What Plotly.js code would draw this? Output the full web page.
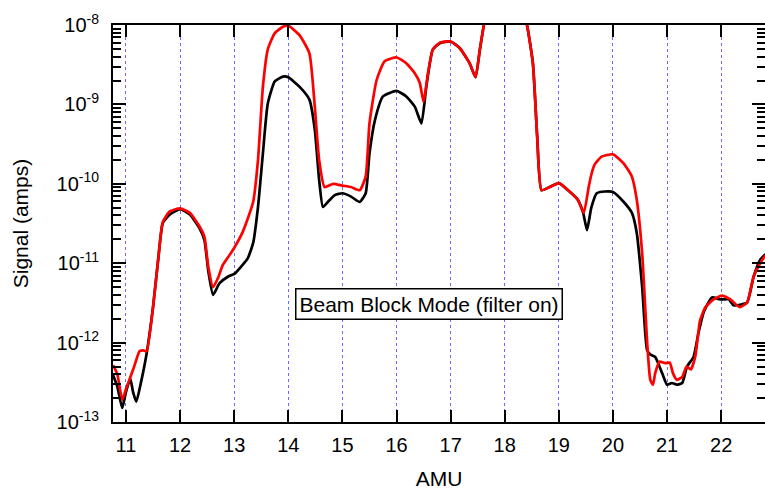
<!DOCTYPE html>
<html>
<head>
<meta charset="utf-8">
<script src="https://cdn.plot.ly/plotly-3.0.1.min.js"></script>
<style>html,body{margin:0;padding:0;background:#fff;}#chart{width:765px;height:491px;}</style>
</head>
<body>
<div id="chart"></div>
<script>
// AMU positions and signal (amps) — black trace
const amuBlack = [10.76,10.84,10.93,11.0,11.08,11.13,11.19,11.27,11.38,11.5,11.6,11.68,11.81,12.0,12.18,12.36,12.45,12.52,12.61,12.73,12.89,13.01,13.13,13.25,13.35,13.44,13.53,13.62,13.75,13.9,14.0,14.21,14.39,14.49,14.57,14.64,14.73,14.86,15.0,15.16,15.32,15.43,15.5,15.6,15.75,16.0,16.18,16.34,16.46,16.55,16.67,16.8,17.0,17.17,17.35,17.46,17.54,17.63,17.75,18.0,18.25,18.4,18.52,18.6,18.68,18.83,19.0,19.17,19.35,19.45,19.52,19.6,19.7,19.85,20.0,20.2,20.35,20.44,20.54,20.63,20.69,20.78,20.91,21.0,21.09,21.18,21.28,21.37,21.49,21.58,21.68,21.83,21.98,22.14,22.23,22.35,22.48,22.6,22.72,22.82];
const sigBlack = [3.9e-13,2.8e-13,1.5e-13,2.4e-13,3.5e-13,2.4e-13,1.8e-13,3.0e-13,7.2e-13,2.8e-12,1.2e-11,3.2e-11,4.1e-11,4.8e-11,4.1e-11,2.75e-11,1.95e-11,8.1e-12,4.0e-12,5.6e-12,6.8e-12,7.4e-12,9.1e-12,1.15e-11,1.8e-11,5.1e-11,2.4e-10,1.02e-9,1.95e-9,2.24e-9,2.2e-9,1.66e-9,1.15e-9,4.8e-10,1.12e-10,5.1e-11,5.9e-11,7.2e-11,7.6e-11,6.9e-11,5.9e-11,7.6e-11,2.4e-10,6.3e-10,1.26e-9,1.48e-9,1.26e-9,9.3e-10,5.75e-10,1.66e-9,4.9e-9,5.9e-9,6.2e-9,5.1e-9,3.3e-9,2.2e-9,4.9e-9,1.15e-8,2.5e-8,4e-8,2.5e-8,1.1e-8,3.3e-9,3.9e-10,8.3e-11,9.1e-11,1.02e-10,8.3e-11,6.3e-11,4.3e-11,2.6e-11,5.0e-11,7.6e-11,8.0e-11,7.9e-11,5.9e-11,4.3e-11,2.4e-11,5.0e-12,8.1e-13,7.1e-13,6.6e-13,4.1e-13,2.95e-13,3.1e-13,2.95e-13,3.1e-13,5.0e-13,6.6e-13,1.32e-12,2.45e-12,3.7e-12,3.5e-12,3.5e-12,2.95e-12,3.0e-12,3.2e-12,6.8e-12,1.1e-11,1.3e-11];

// AMU positions and signal (amps) — red trace
const amuRed = [10.76,10.84,10.93,11.0,11.07,11.16,11.25,11.32,11.38,11.5,11.6,11.68,11.81,12.0,12.18,12.36,12.45,12.52,12.61,12.7,12.79,12.98,13.16,13.35,13.44,13.53,13.62,13.75,13.9,14.0,14.21,14.39,14.49,14.57,14.67,14.83,15.0,15.16,15.32,15.43,15.5,15.63,15.78,16.0,16.18,16.34,16.43,16.5,16.58,16.67,16.8,17.0,17.17,17.35,17.46,17.54,17.63,17.75,18.0,18.25,18.4,18.52,18.6,18.68,18.83,19.0,19.17,19.35,19.46,19.55,19.6,19.66,19.79,20.0,20.2,20.35,20.44,20.54,20.63,20.69,20.74,20.78,20.86,20.97,21.05,21.11,21.18,21.28,21.36,21.44,21.52,21.61,21.71,21.86,22.01,22.17,22.34,22.48,22.6,22.72,22.82];
const sigRed = [5.2e-13,4.0e-13,1.9e-13,2.6e-13,3.5e-13,5.2e-13,7.8e-13,8.0e-13,7.8e-13,2.8e-12,1.2e-11,3.3e-11,4.5e-11,4.9e-11,4.3e-11,2.9e-11,2.15e-11,9.1e-12,5.0e-12,6.5e-12,9.5e-12,1.48e-11,2.5e-11,5.9e-11,2.0e-10,1.66e-9,4.9e-9,7.9e-9,9.5e-9,9.8e-9,7.4e-9,4.4e-9,9.3e-10,2.0e-10,9.1e-11,1.0e-10,9.5e-11,9.1e-11,8.3e-11,1.23e-10,5.75e-10,2.0e-9,3.5e-9,3.9e-9,3.3e-9,2.45e-9,1.86e-9,1.07e-9,2.45e-9,4.9e-9,6.0e-9,6.2e-9,5.1e-9,3.3e-9,2.2e-9,4.9e-9,1.15e-8,2.5e-8,4e-8,2.5e-8,1.1e-8,3.3e-9,3.9e-10,8.3e-11,9.1e-11,1.02e-10,8.3e-11,6.3e-11,4.3e-11,9e-11,1.3e-10,1.74e-10,2.2e-10,2.35e-10,1.8e-10,1.23e-10,6.3e-11,1.32e-11,1.07e-12,3.4e-13,2.95e-13,4.1e-13,5.75e-13,5.5e-13,5.6e-13,4.1e-13,3.4e-13,3.7e-13,5.0e-13,4.6e-13,6.6e-13,1.9e-12,2.8e-12,3.5e-12,3.9e-12,3.5e-12,2.8e-12,3.2e-12,6.8e-12,1.0e-11,1.26e-11];

// Axis tick labels
const yTickVals = [1e-13,1e-12,1e-11,1e-10,1e-9,1e-8];
const yTickText = ["10<sup>-13</sup>","10<sup>-12</sup>","10<sup>-11</sup>","10<sup>-10</sup>","10<sup>-9</sup>","10<sup>-8</sup>"];
const xTickVals = [11,12,13,14,15,16,17,18,19,20,21,22];
const xTickText = ["11","12","13","14","15","16","17","18","19","20","21","22"];

const minorVals = [];
for (let e = -13; e < -8; e++) for (let d = 2; d <= 9; d++) minorVals.push(d * Math.pow(10, e));

const font = "Liberation Sans, Arial, sans-serif";

const traces = [
  {x: amuBlack, y: sigBlack, mode: 'lines', line: {color: '#000000', width: 2.7, shape: 'spline', smoothing: 0.5}, showlegend: false},
  {x: amuRed, y: sigRed, mode: 'lines', line: {color: '#ff0000', width: 2.7, shape: 'spline', smoothing: 0.5}, showlegend: false}
];

const layout = {
  width: 765, height: 491,
  margin: {l: 113, r: 0, t: 25, b: 69},
  paper_bgcolor: '#ffffff', plot_bgcolor: '#ffffff',
  font: {family: font, color: '#000000', size: 20},
  xaxis: {
    range: [10.76, 22.81],
    tickmode: 'array', tickvals: xTickVals, ticktext: xTickText,
    ticks: 'inside', ticklen: 12, tickwidth: 2, tickcolor: '#000',
    showline: true, linecolor: '#000', linewidth: 2, mirror: 'ticks',
    showgrid: true, gridcolor: 'rgba(90,90,255,0.9)', gridwidth: 1, griddash: 'dot',
    zeroline: false,
    tickfont: {size: 20, family: font},
    ticklabelstandoff: 4,
    title: {text: 'AMU', font: {size: 21, family: font}, standoff: 16}
  },
  yaxis: {
    type: 'log',
    range: [-13, -8],
    tickmode: 'array', tickvals: yTickVals, ticktext: yTickText,
    ticks: 'inside', ticklen: 13, tickwidth: 2, tickcolor: '#000',
    minor: {tickmode: 'array', tickvals: minorVals, ticks: 'inside', ticklen: 8, tickwidth: 2, tickcolor: '#000', showgrid: false},
    showline: true, linecolor: '#000', linewidth: 2, mirror: 'ticks',
    showgrid: false, zeroline: false,
    tickfont: {size: 20, family: font},
    ticklabelstandoff: 8,
    title: {text: 'Signal (amps)', font: {size: 21, family: font}, standoff: 22}
  },
  annotations: [{
    xref: 'paper', yref: 'paper', x: 0.485, y: 0.296,
    xanchor: 'center', yanchor: 'middle',
    text: 'Beam Block Mode (filter on)', showarrow: false,
    font: {size: 21, family: font, color: '#000'},
    bgcolor: '#ffffff', bordercolor: '#000', borderwidth: 1.5, borderpad: 3
  }]
};

Plotly.newPlot('chart', traces, layout, {staticPlot: true, displayModeBar: false});
</script>
</body>
</html>
